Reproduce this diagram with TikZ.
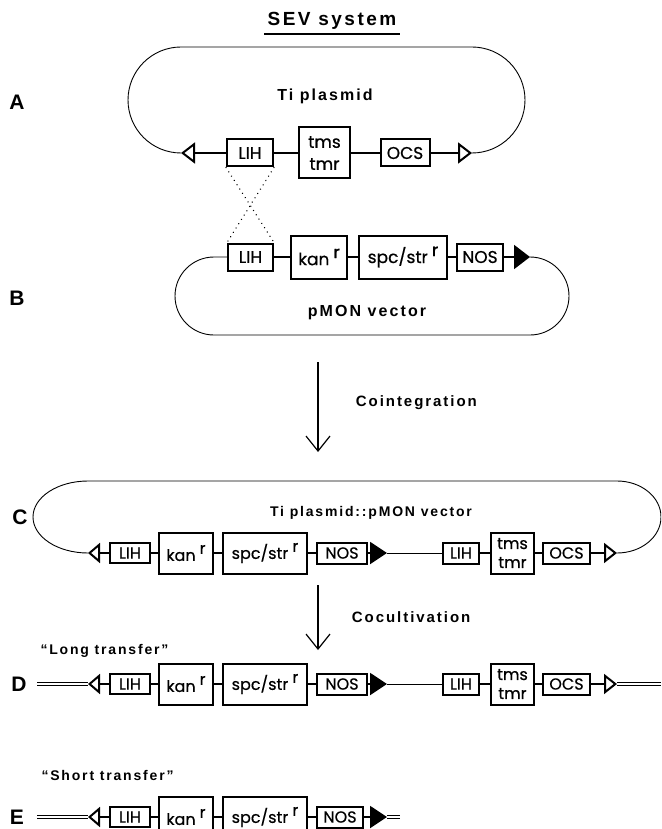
\documentclass[tikz,border=0pt]{standalone}
\usepackage{fontspec}
\setmainfont{Liberation Sans}
\newfontfamily\boxfont[FakeBold=0.6]{Poppins}
\newfontfamily\spacedfont[LetterSpace=13]{Liberation Sans}
\usetikzlibrary{arrows.meta,positioning,calc}

\newcommand{\resmark}{\hspace{4pt}\raisebox{7pt}{r}}

\tikzset{
  gene/.style={draw, line width=2pt, inner sep=0pt, align=center, font=\boxfont\fontsize{16}{19}\selectfont},
  biggene/.style={gene, font=\boxfont\fontsize{17}{22}\selectfont},
  chain/.style={line width=2pt},
  thinchain/.style={line width=1pt},
  ring/.style={line width=0.9pt},
  dbl/.style={double, double distance=2.4pt, line width=0.8pt},
  cross/.style={line width=1.4pt, dash pattern=on 0.1pt off 5pt, line cap=round},
  tag/.style={font=\bfseries\fontsize{21}{24}\selectfont},
  caption/.style={font=\spacedfont\bfseries\fontsize{15}{18}\selectfont},
  process/.style={line width=1.2pt, -{Straight Barb[length=15pt,width=24pt]}},
  bigopenL/.style={{Triangle[open,length=14pt,width=21pt]}-},
  bigopenR/.style={-{Triangle[open,length=14pt,width=21pt]}},
  bigfillR/.style={-{Triangle[length=16pt,width=24pt]}},
  openL/.style={{Triangle[open,length=12pt,width=20pt]}-},
  openR/.style={-{Triangle[open,length=13pt,width=20pt]}},
  fillR/.style={-{Triangle[length=17pt,width=22pt]}}
}

\begin{document}
\begin{tikzpicture}[x=1pt, y=1pt]
    \useasboundingbox (0,0) rectangle (661,-829);
    \clip (0,0) rectangle (661,-829);

    % title
    \node[caption, font=\spacedfont\bfseries\fontsize{19}{22}\selectfont] (title) at (332,-21) {SEV system};
    \draw[line width=1.5pt] ([yshift=-1pt]title.south west) -- ([yshift=-1pt]title.south east);

    % A: Ti plasmid
    \node[tag] (tagA) at (17,-102) {A};
    \coordinate (ltA) at (181,-153);
    \node[biggene, minimum width=46pt, minimum height=27pt] (lihA) at (250,-153) {LIH};
    \node[biggene, minimum width=51pt, minimum height=51pt] (tmsA) at (324.5,-153) {tms\\tmr};
    \node[biggene, minimum width=49pt, minimum height=27pt] (ocsA) at (405,-153) {OCS};
    \coordinate (rtA) at (472,-153);
    \draw[chain, bigopenL] (ltA) -- (lihA);
    \draw[chain] (lihA) -- (tmsA) -- (ocsA);
    \draw[chain, bigopenR] (ocsA) -- (rtA);
    \draw[ring] (ltA) arc[start angle=270, end angle=90, radius=53] -- (472,-47) arc[start angle=90, end angle=-90, radius=53];
    \node[caption, font=\spacedfont\bfseries\fontsize{16}{19}\selectfont] (tiA) at (325,-96) {Ti plasmid};

    % B: pMON vector
    \node[tag] (tagB) at (17,-298) {B};
    \node[biggene, minimum width=45pt, minimum height=27pt] (lihB) at (250.5,-257) {LIH};
    \node[biggene, minimum width=56pt, minimum height=43pt] (kanB) at (319,-257) {kan\resmark};
    \node[biggene, minimum width=88pt, minimum height=43pt] (spcB) at (403,-257) {spc/str\resmark};
    \node[biggene, minimum width=46pt, minimum height=27pt] (nosB) at (480,-257) {NOS};
    \coordinate (ntB) at (530,-257);
    \draw[chain] (lihB) -- (kanB) -- (spcB) -- (nosB);
    \draw[chain, bigfillR] (nosB) -- (ntB);
    \draw[ring] (lihB) -- (214,-257) arc[start angle=90, end angle=270, radius=39] -- (530,-335) arc[start angle=-90, end angle=90, radius=39];
    \node[caption, font=\spacedfont\bfseries\fontsize{16}{19}\selectfont] (pmonB) at (367,-313) {pMON vector};

    % homologous LIH crossover
    \draw[cross] (lihA.south west) -- (lihB.north east);
    \draw[cross] (lihA.south east) -- (lihB.north west);

    % cointegration
    \coordinate (coTop) at (318,-362);
    \coordinate (coEnd) at (318,-452);
    \draw[process] (coTop) -- node[pos=0.45, right=34pt, caption] {Cointegration} (coEnd);

    % C: cointegrate
    \node[tag] (tagC) at (20,-517) {C};
    \coordinate (ltC) at (88,-553);
    \node[gene, minimum width=40pt, minimum height=20pt] (lihC) at (130,-553) {LIH};
    \node[gene, minimum width=54pt, minimum height=41pt] (kanC) at (186,-553) {kan\resmark};
    \node[gene, minimum width=84pt, minimum height=41pt] (spcC) at (265,-553) {spc/str\resmark};
    \node[gene, minimum width=50pt, minimum height=21pt] (nosC) at (342,-553) {NOS};
    \coordinate (ntC) at (387,-553);
    \node[gene, minimum width=36pt, minimum height=21pt] (lih2C) at (461,-553) {LIH};
    \node[gene, minimum width=43pt, minimum height=41pt] (tmsC) at (512.5,-553) {tms\\tmr};
    \node[gene, minimum width=47pt, minimum height=21pt] (ocsC) at (566.5,-553) {OCS};
    \coordinate (rtC) at (617,-553);
    \draw[chain, openL] (ltC) -- (lihC);
    \draw[chain] (lihC) -- (kanC) -- (spcC) -- (nosC);
    \draw[chain, fillR] (nosC) -- (ntC);
    \draw[thinchain] (ntC) -- (lih2C);
    \draw[chain] (lih2C) -- (tmsC) -- (ocsC);
    \draw[chain, openR] (ocsC) -- (rtC);
    \draw[ring] (ltC) arc[start angle=270, end angle=90, x radius=55, y radius=36] -- (617,-481) arc[start angle=90, end angle=-90, x radius=44, y radius=36];
    \node[caption, font=\spacedfont\bfseries\fontsize{14}{17}\selectfont] (tiC) at (371,-513) {Ti plasmid::pMON vector};

    % cocultivation
    \coordinate (ccTop) at (318,-585);
    \coordinate (ccEnd) at (318,-650);
    \draw[process] (ccTop) -- node[pos=0.5, right=30pt, caption] {Cocultivation} (ccEnd);

    % D: long transfer
    \node[caption, font=\spacedfont\bfseries\fontsize{14}{17}\selectfont, anchor=west] (longD) at (37,-651) {“Long transfer”};
    \node[tag] (tagD) at (19,-684) {D};
    \coordinate (inD) at (37,-684);
    \coordinate (ltD) at (88,-684);
    \node[gene, minimum width=40pt, minimum height=20pt] (lihD) at (130,-684) {LIH};
    \node[gene, minimum width=54pt, minimum height=41pt] (kanD) at (186,-684) {kan\resmark};
    \node[gene, minimum width=84pt, minimum height=41pt] (spcD) at (265,-684) {spc/str\resmark};
    \node[gene, minimum width=50pt, minimum height=21pt] (nosD) at (342,-684) {NOS};
    \coordinate (ntD) at (387,-684);
    \node[gene, minimum width=36pt, minimum height=21pt] (lih2D) at (461,-684) {LIH};
    \node[gene, minimum width=43pt, minimum height=41pt] (tmsD) at (512.5,-684) {tms\\tmr};
    \node[gene, minimum width=47pt, minimum height=21pt] (ocsD) at (566.5,-684) {OCS};
    \coordinate (rtD) at (617,-684);
    \coordinate (outD) at (661,-684);
    \draw[dbl] (inD) -- (ltD);
    \draw[chain, openL] (ltD) -- (lihD);
    \draw[chain] (lihD) -- (kanD) -- (spcD) -- (nosD);
    \draw[chain, fillR] (nosD) -- (ntD);
    \draw[thinchain] (ntD) -- (lih2D);
    \draw[chain] (lih2D) -- (tmsD) -- (ocsD);
    \draw[chain, openR] (ocsD) -- (rtD);
    \draw[dbl] (rtD) -- (outD);

    % E: short transfer
    \node[caption, font=\spacedfont\bfseries\fontsize{14}{17}\selectfont, anchor=west] (shortE) at (38,-775) {“Short transfer”};
    \node[tag] (tagE) at (17,-817) {E};
    \coordinate (inE) at (37,-817);
    \coordinate (ltE) at (88,-817);
    \node[gene, minimum width=40pt, minimum height=20pt] (lihE) at (130,-817) {LIH};
    \node[gene, minimum width=54pt, minimum height=41pt] (kanE) at (186,-817) {kan\resmark};
    \node[gene, minimum width=84pt, minimum height=41pt] (spcE) at (265,-817) {spc/str\resmark};
    \node[gene, minimum width=46pt, minimum height=21pt] (nosE) at (340,-817) {NOS};
    \coordinate (ntE) at (387,-817);
    \coordinate (outE) at (400,-817);
    \draw[dbl] (inE) -- (ltE);
    \draw[chain, openL] (ltE) -- (lihE);
    \draw[chain] (lihE) -- (kanE) -- (spcE) -- (nosE);
    \draw[chain, fillR] (nosE) -- (ntE);
    \draw[dbl] (ntE) -- (outE);
\end{tikzpicture}
\end{document}
